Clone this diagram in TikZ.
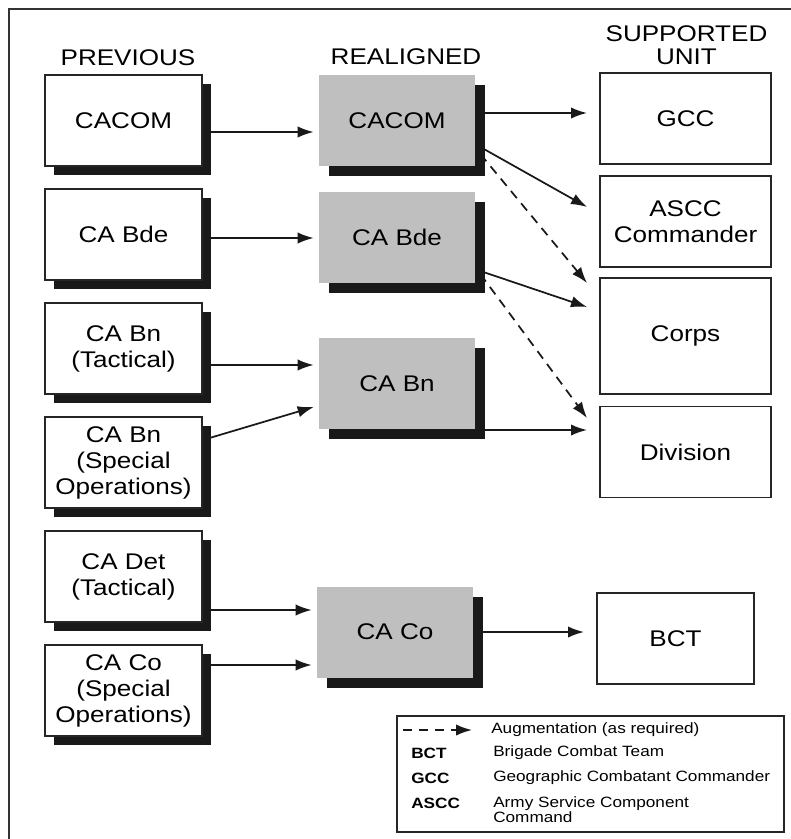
\documentclass[tikz,border=0pt]{standalone}
\usepackage{fontspec}
\setmainfont{Liberation Sans}[FakeStretch=1.15]
\usetikzlibrary{arrows.meta}
\usetikzlibrary{shadows}

\begin{document}
\begin{tikzpicture}[x=0.75pt,y=-0.75pt,
    every node/.style={font=\fontsize{17}{19.5}\selectfont, align=center, inner sep=0pt},
    oldunit/.style={draw=black!85, line width=1.2pt, fill=white,
      minimum width=117.75pt, minimum height=68.25pt,
      drop shadow={shadow xshift=7pt, shadow yshift=-7pt, fill=black!90, opacity=1}},
    newunit/.style={fill=black!25, minimum width=117pt, minimum height=68.25pt, outer xsep=4pt,
      drop shadow={shadow xshift=7.5pt, shadow yshift=-7.5pt, fill=black!90, opacity=1}},
    supunit/.style={draw=black!85, line width=1.2pt, fill=white,
      minimum width=128.25pt, minimum height=68.25pt, outer xsep=9.75pt},
    arr/.style={-{Latex[length=12pt,width=8.5pt]}, line width=1.3pt, black!90},
    aug/.style={arr, dash pattern=on 7pt off 5pt},
    head/.style={font=\fontsize{17}{17.25}\selectfont},
    key/.style={font=\fontsize{11.2}{11.25}\selectfont, anchor=west, align=left},
    abbr/.style={key, font=\fontsize{11.2}{11.25}\selectfont\bfseries}]
  \useasboundingbox (0,0) rectangle (791,839);
  \draw[line width=1.5pt, black!80] (9,9) rectangle (800,850);

  % column heads
  \node[head] (hprev) at (128,57.5) {PREVIOUS};
  \node[head] (hreal) at (406,57) {REALIGNED};
  \node[head] (hsup) at (686.5,45) {SUPPORTED\\UNIT};

  % previous
  \node[oldunit] (pcacom) at (123.5,120.5) {CACOM};
  \node[oldunit] (pbde) at (123.5,234.5) {CA Bde};
  \node[oldunit] (pbnt) at (123.5,348.5) {CA Bn\\(Tactical)};
  \node[oldunit] (pbns) at (123.5,462.5) {CA Bn\\(Special\\Operations)};
  \node[oldunit] (pdet) at (123.5,576.5) {CA Det\\(Tactical)};
  \node[oldunit] (pco) at (123.5,690.5) {CA Co\\(Special\\Operations)};

  % realigned
  \node[newunit] (rcacom) at (397,120.5) {CACOM};
  \node[newunit] (rbde) at (397,237) {CA Bde};
  \node[newunit] (rbn) at (397,383.5) {CA Bn};
  \node[newunit] (rco) at (395,632) {CA Co};

  % supported unit
  \node[supunit] (gcc) at (685.5,118.5) {GCC};
  \node[supunit] (ascc) at (685.5,221.5) {ASCC\\Commander};
  \node[supunit, minimum height=87pt] (corps) at (685.5,336) {Corps};
  \node[supunit] (div) at (685.5,452) {Division};
  \node[supunit, minimum width=117.75pt] (bct) at (675.5,638.5) {BCT};

  \draw[arr] (pcacom.east |- 0,132) -- (rcacom.west |- 0,132);
  \draw[arr] (pbde.east |- 0,238) -- (rbde.west |- 0,238);
  \draw[arr] (pbnt.east |- 0,365) -- (rbn.west |- 0,365);
  \draw[arr] (pbns.east |- 0,440) -- (rbn.west |- 0,407);
  \draw[arr] (pdet.east |- 0,610) -- (rco.west |- 0,610);
  \draw[arr] (pco.east |- 0,665) -- (rco.west |- 0,665);

  \draw[arr] (rcacom.east |- 0,113) -- (gcc.west |- 0,113);
  \draw[arr] (rcacom.east |- 0,147) -- (ascc.west |- 0,207);
  \draw[aug] (rcacom.east |- 0,154) -- (corps.west |- 0,283);
  \draw[arr] (rbde.east |- 0,271) -- (corps.west |- 0,307);
  \draw[aug] (rbde.east |- 0,274) -- (div.west |- 0,418);
  \draw[arr] (rbn.east |- 0,430) -- (div.west |- 0,430);
  \draw[arr] (rco.east |- 0,632) -- (bct.west |- 0,632);

  % legend
  \node[draw=black!85, line width=1.2pt, minimum width=290.25pt, minimum height=87pt] (legend) at (590.5,774) {};
  \coordinate (keyL) at (403,730);
  \coordinate (keyR) at (472,730);
  \draw[aug] (keyL) -- (keyR);
  \node[key] (kaug) at (491,730) {Augmentation (as required)};
  \node[abbr] (kbct) at (411,753) {BCT};
  \node[key] (tbct) at (493,753) {Brigade Combat Team};
  \node[abbr] (kgcc) at (411,778) {GCC};
  \node[key] (tgcc) at (493,778) {Geographic Combatant Commander};
  \node[abbr] (kascc) at (411,803) {ASCC};
  \node[key] (tascc) at (493,810) {Army Service Component\\Command};
\end{tikzpicture}
\end{document}
